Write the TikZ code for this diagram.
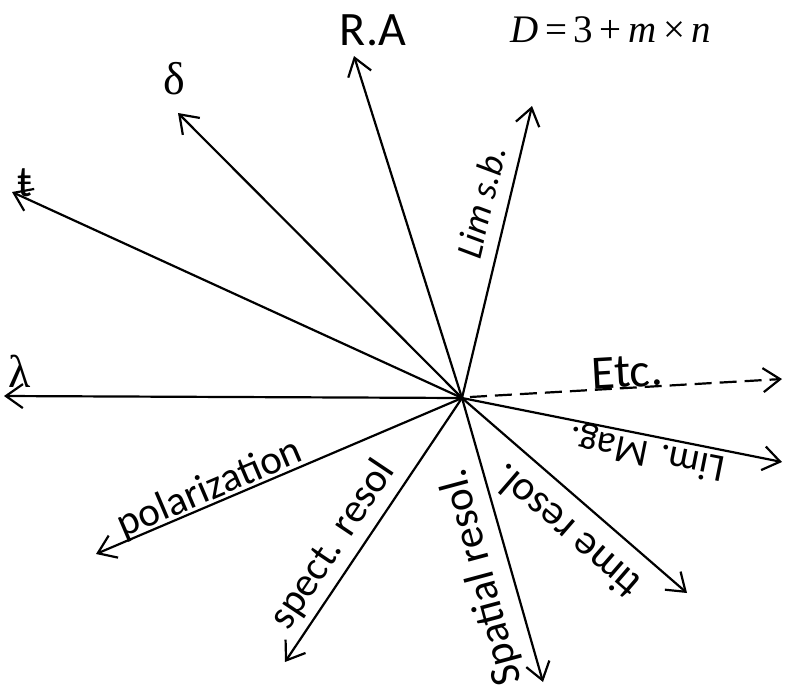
\documentclass[tikz,border=0pt]{standalone}
\usepackage{fontspec}
\setmainfont{Liberation Serif}
\newfontfamily\lblfont{Carlito}
\usetikzlibrary{arrows.meta}

\begin{document}
\begin{tikzpicture}[x=1pt,y=-1pt,
        axis/.style={line width=2.2pt,-{Straight Barb[length=17pt,width=24pt]}},
        lbl/.style={font=\lblfont\fontsize{#1}{#1}\selectfont,inner sep=0pt},
        lbl/.default=40,
        sym/.style={font=\fontsize{46}{48}\selectfont,inner sep=0pt}]
        \useasboundingbox (0,0) rectangle (789,686);

        % centre and arrow ends
        \coordinate (o) at (462,398);
        \coordinate (ra) at (354,56);
        \coordinate (de) at (178,113);
        \coordinate (tt) at (12,192);
        \coordinate (la) at (4,396);
        \coordinate (po) at (96,554);
        \coordinate (sp) at (285,662);
        \coordinate (sa) at (543,682);
        \coordinate (ti) at (687,593);
        \coordinate (lm) at (782,462);
        \coordinate (e0) at (470,397);
        \coordinate (et) at (782,379);
        \coordinate (sb) at (532,106);

        \draw[axis] (o) -- (ra);
        \draw[axis] (o) -- (de);
        \draw[axis] (o) -- (tt);
        \draw[axis] (o) -- (la);
        \draw[axis] (o) -- (po);
        \draw[axis] (o) -- (sp);
        \draw[axis] (o) -- (sa);
        \draw[axis] (o) -- (ti);
        \draw[axis] (o) -- (lm);
        \draw[axis] (o) -- (sb);
        \draw[axis,dash pattern=on 17pt off 8pt] (e0) -- (et);

        % labels
        \node[lbl=48] (tra) at (373,30) {R.A};
        \node[inner sep=0pt,font=\fontsize{39}{40}\selectfont] (eq) at (611,30)
            {\textit{D}\,=\,3\,+\,\textit{m}\,×\,\textit{n}};
        \node[sym] (tde) at (174,79) {δ};
        \node[lbl=44] (ttt) at (25,183) {ŧ};
        \node[sym] (tla) at (20,371) {λ};
        \node[lbl=41,rotate=23.1] (tpo) at (210,489) {polarization};
        \node[lbl=41,rotate=56.2] (tsp) at (333,545) {spect. resol};
        \node[lbl=43,rotate=105] (tsa) at (482,577) {Spatial resol.};
        \node[lbl=42,rotate=139.1] (tti) at (566,532) {time resol.};
        \node[lbl=39,rotate=168.7] (tlm) at (647,452) {Lim. Mag.};
        \node[lbl=48,rotate=3.3] (tet) at (627,372) {Etc.};
        \node[lbl,rotate=76.5,font=\lblfont\itshape\fontsize{37}{38}\selectfont] (tsb) at (481,202) {Lim s.b.};
\end{tikzpicture}
\end{document}
